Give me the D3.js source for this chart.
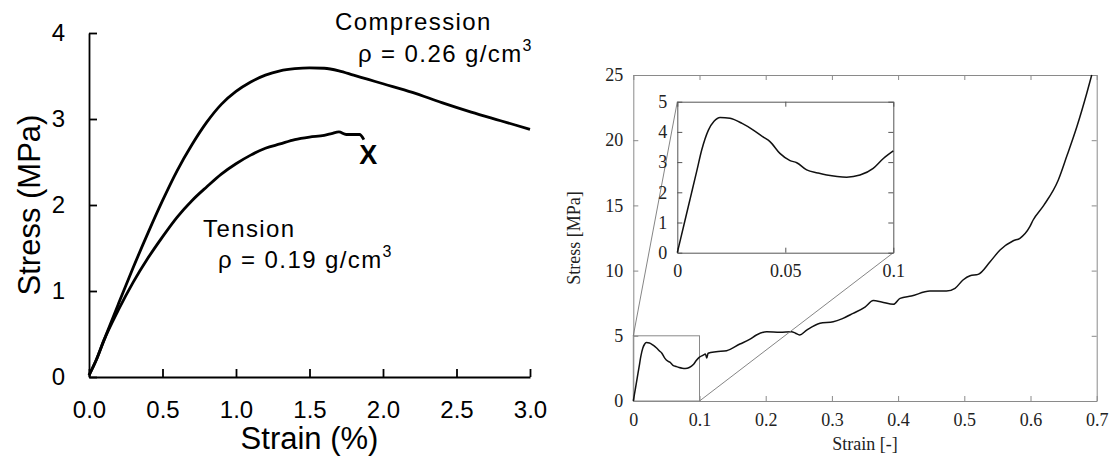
<!DOCTYPE html>
<html><head><meta charset="utf-8">
<script src="https://cdn.jsdelivr.net/npm/d3@7"></script>
<style>body{margin:0;background:#fff}svg{display:block}</style>
</head><body>
<svg id="c" width="1119" height="461"></svg>
<script>
// ---------- Left chart data ----------
const compStrain = [0,0.05,0.1,0.2,0.3,0.4,0.5,0.6,0.7,0.8,0.9,1.0,1.1,1.2,1.3,1.4,1.5,1.6,1.7,1.8,1.9,2.0,2.2,2.4,2.6,2.8,3.0];
const compStress = [0.02,0.2,0.42,0.85,1.27,1.67,2.05,2.4,2.7,2.96,3.17,3.32,3.43,3.51,3.56,3.585,3.595,3.59,3.56,3.51,3.46,3.41,3.31,3.19,3.08,2.98,2.88];
const tensStrain = [0,0.05,0.1,0.2,0.3,0.4,0.5,0.6,0.7,0.8,0.9,1.0,1.1,1.2,1.3,1.4,1.5,1.6,1.65,1.7,1.75,1.8,1.84,1.87];
const tensStress = [0.02,0.2,0.42,0.78,1.1,1.38,1.63,1.86,2.05,2.21,2.36,2.48,2.58,2.66,2.71,2.76,2.79,2.81,2.83,2.85,2.82,2.82,2.82,2.76];
const failStrain = 1.9, failStress = 2.59;
const leftXTicks = [0,0.5,1.0,1.5,2.0,2.5,3.0];
const leftYTicks = [0,1,2,3,4];

// ---------- Right chart data ----------
const rStrain = [0,0.003,0.006,0.009,0.0113,0.0144,0.017,0.0198,0.0244,0.03,0.0352,0.04,0.0429,0.0475,0.0522,0.0553,0.0599,0.065,0.0692,0.074,0.0784,0.0846,0.0907,0.0954,0.1,
  0.105,0.109,0.111,0.113,0.125,0.141,0.161,0.175,0.186,0.2015,0.2216,0.239,0.245,0.251,0.262,0.282,0.302,0.315,0.332,0.35,0.3625,0.375,0.393,0.403,0.42,0.448,0.473,0.486,0.498,0.5087,0.521,0.539,0.554,0.574,0.584,0.599,0.604,0.62,0.642,0.655,0.67,0.685,0.6925];
const rStress = [0,0.9,1.8,2.7,3.4,4.06,4.35,4.48,4.45,4.28,4.06,3.82,3.68,3.29,3.05,2.98,2.74,2.64,2.57,2.52,2.50,2.57,2.79,3.12,3.37,
  3.5,3.6,3.3,3.66,3.78,3.86,4.37,4.7,5.06,5.31,5.27,5.31,5.2,5.06,5.44,5.96,6.08,6.3,6.72,7.2,7.7,7.6,7.41,7.87,8.05,8.43,8.43,8.64,9.28,9.61,9.71,10.68,11.58,12.29,12.48,13.37,13.88,15.0,16.95,18.8,21.03,23.6,25.0];
const rXTicks = [0,0.1,0.2,0.3,0.4,0.5,0.6,0.7];
const rYTicks = [0,5,10,15,20,25];
const iXTicks = [0,0.05,0.1];
const iYTicks = [0,1,2,3,4,5];

const svg = d3.select("#c");

// ================= LEFT =================
const xL = d3.scaleLinear().domain([0,3]).range([89,530]);
const yL = d3.scaleLinear().domain([0,4]).range([377,33]);
const L = svg.append("g");
const sansF = "'Liberation Sans', Arial, Helvetica, sans-serif";

const axLx = L.append("g").attr("transform",`translate(0,${yL(0)})`)
  .call(d3.axisBottom(xL).tickValues(leftXTicks).tickFormat(d3.format(".1f")).tickSizeInner(-8).tickSizeOuter(0).tickPadding(24));
const axLy = L.append("g").attr("transform",`translate(${xL(0)},0)`)
  .call(d3.axisLeft(yL).tickValues(leftYTicks).tickFormat(d3.format("d")).tickSizeInner(-8).tickSizeOuter(0).tickPadding(24));
[axLx,axLy].forEach(a=>{
  a.select(".domain").attr("stroke","#000").attr("stroke-width",1.8);
  a.selectAll(".tick line").attr("stroke","#000").attr("stroke-width",1.8);
  a.selectAll("text").attr("font-family",sansF).attr("font-size",24).attr("fill","#000");
});

const lineL = d3.line().x(d=>xL(d[0])).y(d=>yL(d[1])).curve(d3.curveMonotoneX);
L.append("path").datum(compStrain.map((s,i)=>[s,compStress[i]]))
  .attr("d",lineL).attr("fill","none").attr("stroke","#000").attr("stroke-width",2.8);
L.append("path").datum(tensStrain.map((s,i)=>[s,tensStress[i]]))
  .attr("d",lineL).attr("fill","none").attr("stroke","#000").attr("stroke-width",2.8);
L.append("text").attr("x",xL(failStrain)).attr("y",yL(failStress)+10).attr("text-anchor","middle")
  .attr("font-family",sansF).attr("font-size",27).attr("font-weight","bold").text("X");

const lbl = (x,y,txt,sup)=>{
  const t = L.append("text").attr("x",x).attr("y",y).attr("font-family",sansF).attr("font-size",24).attr("letter-spacing",1.4).attr("fill","#000");
  t.append("tspan").text(txt);
  if(sup) t.append("tspan").attr("dy",-11).attr("font-size",16).text(sup);
};
lbl(335,30,"Compression");
lbl(358,62,"ρ = 0.26 g/cm","3");
lbl(203,237,"Tension");
lbl(218,268,"ρ = 0.19 g/cm","3");

L.append("text").attr("x",(xL(0)+xL(3))/2).attr("y",449).attr("text-anchor","middle")
  .attr("font-family",sansF).attr("font-size",31).text("Strain (%)");
L.append("text").attr("transform",`translate(40,${(yL(0)+yL(4))/2}) rotate(-90)`).attr("text-anchor","middle")
  .attr("font-family",sansF).attr("font-size",31).text("Stress (MPa)");

// ================= RIGHT =================
const serifF = "'Liberation Serif', 'Times New Roman', serif";
const xR = d3.scaleLinear().domain([0,0.7]).range([633.3,1096.7]);
const yR = d3.scaleLinear().domain([0,25]).range([401,75]);
const R = svg.append("g");
const frameC = "#8a8a8a";

function styleAx(a,col,fs){
  a.select(".domain").attr("stroke",col).attr("stroke-width",1);
  a.selectAll(".tick line").attr("stroke",col).attr("stroke-width",1);
  a.selectAll("text").attr("font-family",serifF).attr("font-size",fs).attr("fill","#222");
}
const rb = R.append("g").attr("transform",`translate(0,${yR(0)})`)
  .call(d3.axisBottom(xR).tickValues(rXTicks).tickFormat(d=>d===0?"0":d3.format(".1f")(d)).tickSizeInner(-5).tickSizeOuter(0).tickPadding(12));
const rt = R.append("g").attr("transform",`translate(0,${yR(25)})`)
  .call(d3.axisTop(xR).tickValues(rXTicks).tickFormat("").tickSizeInner(-5).tickSizeOuter(0));
const rl = R.append("g").attr("transform",`translate(${xR(0)},0)`)
  .call(d3.axisLeft(yR).tickValues(rYTicks).tickFormat(d3.format("d")).tickSizeInner(-5).tickSizeOuter(0).tickPadding(10));
const rr = R.append("g").attr("transform",`translate(${xR(0.7)},0)`)
  .call(d3.axisRight(yR).tickValues(rYTicks).tickFormat("").tickSizeInner(-5).tickSizeOuter(0));
[rb,rt,rl,rr].forEach(a=>styleAx(a,frameC,18));

R.append("text").attr("x",(xR(0)+xR(0.7))/2).attr("y",450).attr("text-anchor","middle")
  .attr("font-family",serifF).attr("font-size",18).attr("fill","#222").text("Strain [-]");
R.append("text").attr("transform",`translate(580,${(yR(0)+yR(25))/2}) rotate(-90)`).attr("text-anchor","middle")
  .attr("font-family",serifF).attr("font-size",18).attr("fill","#222").text("Stress [MPa]");

// zoom rectangle & connectors
const xI = d3.scaleLinear().domain([0,0.1]).range([677.3,893.3]);
const yI = d3.scaleLinear().domain([0,5]).range([252.7,101.7]);
R.append("rect").attr("x",xR(0)).attr("y",yR(5)).attr("width",xR(0.1)-xR(0)).attr("height",yR(0)-yR(5))
  .attr("fill","none").attr("stroke",frameC).attr("stroke-width",1);

const dataR = rStrain.map((s,i)=>[s,rStress[i]]);
const lineR = d3.line().x(d=>xR(d[0])).y(d=>yR(d[1])).curve(d3.curveMonotoneX);
R.append("path").datum(dataR).attr("d",lineR).attr("fill","none").attr("stroke","#111").attr("stroke-width",1.5);

R.append("line").attr("x1",xR(0)).attr("y1",yR(5)).attr("x2",xI(0)).attr("y2",yI(5)).attr("stroke","#777").attr("stroke-width",0.9);
R.append("line").attr("x1",xR(0.1)).attr("y1",yR(0)).attr("x2",xI(0.1)).attr("y2",yI(0)).attr("stroke","#777").attr("stroke-width",0.9);

// inset
const I = R.append("g");
I.append("rect").attr("x",xI(0)).attr("y",yI(5)).attr("width",xI(0.1)-xI(0)).attr("height",yI(0)-yI(5)).attr("fill","#fff");
const ib = I.append("g").attr("transform",`translate(0,${yI(0)})`)
  .call(d3.axisBottom(xI).tickValues(iXTicks).tickFormat(d=>d===0?"0":(d===0.1?"0.1":"0.05")).tickSizeInner(-5).tickSizeOuter(0).tickPadding(12));
const it = I.append("g").attr("transform",`translate(0,${yI(5)})`)
  .call(d3.axisTop(xI).tickValues(iXTicks).tickFormat("").tickSizeInner(-5).tickSizeOuter(0));
const il = I.append("g").attr("transform",`translate(${xI(0)},0)`)
  .call(d3.axisLeft(yI).tickValues(iYTicks).tickFormat(d3.format("d")).tickSizeInner(-5).tickSizeOuter(0).tickPadding(10));
const ir = I.append("g").attr("transform",`translate(${xI(0.1)},0)`)
  .call(d3.axisRight(yI).tickValues(iYTicks).tickFormat("").tickSizeInner(-5).tickSizeOuter(0));
[ib,it,il,ir].forEach(a=>styleAx(a,"#555",18));
const lineI = d3.line().x(d=>xI(d[0])).y(d=>yI(d[1])).curve(d3.curveMonotoneX);
I.append("path").datum(dataR.filter(d=>d[0]<=0.1)).attr("d",lineI).attr("fill","none").attr("stroke","#111").attr("stroke-width",1.5);
</script>
</body></html>
